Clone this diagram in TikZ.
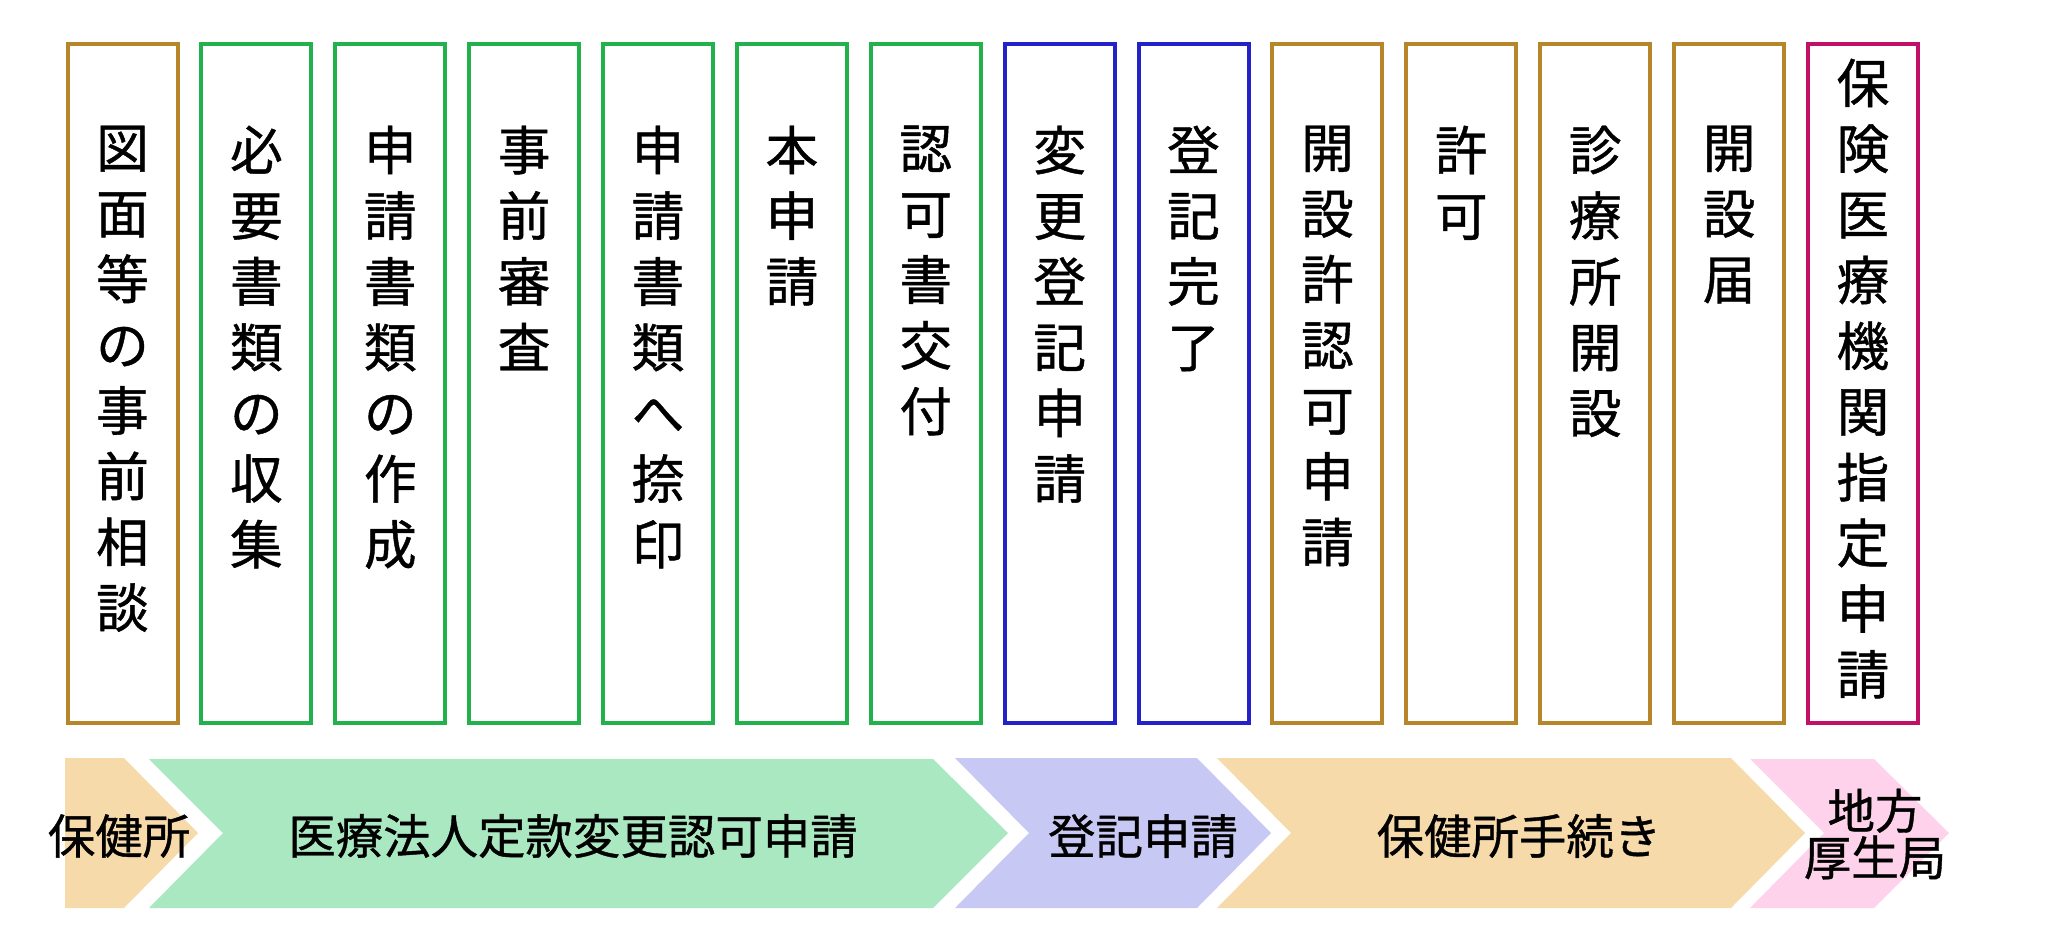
\documentclass[tikz,border=0pt]{standalone}
\usepackage{fontspec}
\newfontfamily\jp[FakeBold=0.8]{Noto Sans CJK JP}
\usepackage{xcolor}
\usepackage{tikz}
\usetikzlibrary{positioning}

\definecolor{hokenbrown}{RGB}{184,134,42}
\definecolor{houjingreen}{RGB}{34,177,76}
\definecolor{toukiblue}{RGB}{34,34,200}
\definecolor{kouseired}{RGB}{192,16,106}
\definecolor{hokenfill}{RGB}{247,218,170}
\definecolor{houjinfill}{RGB}{169,232,192}
\definecolor{toukifill}{RGB}{200,200,244}
\definecolor{kouseifill}{RGB}{253,210,234}

\begin{document}
\begin{tikzpicture}[
      x=0.1mm, y=-0.1mm,
      box/.style={
        draw,
        rectangle,
        line width=0.4mm,
        fill=white,
        minimum width=11.0mm,
        minimum height=67.9mm,
        inner sep=0pt
      },
      txt/.style={
        anchor=north,
        inner sep=0pt,
        align=center,
        font=\jp\fontsize{15pt}{18.7pt}\selectfont
      },
      flowtxt/.style={
        inner sep=0pt,
        align=center,
        font=\jp\fontsize{13.5pt}{13.3pt}\selectfont
      }
      ]
        \useasboundingbox (0,0) rectangle (2053,934);

        % Étapes
        \node[box, draw=hokenbrown] (b1) at (122.5,383.5) {};
        \node[txt] (t1) at ([yshift=-8.3mm]b1.north) {図\\面\\等\\の\\事\\前\\相\\談};

        \node[box, draw=houjingreen] (b2) at (256.4,383.5) {};
        \node[txt] (t2) at ([yshift=-8.3mm]b2.north) {必\\要\\書\\類\\の\\収\\集};

        \node[box, draw=houjingreen] (b3) at (390.3,383.5) {};
        \node[txt] (t3) at ([yshift=-8.3mm]b3.north) {申\\請\\書\\類\\の\\作\\成};

        \node[box, draw=houjingreen] (b4) at (524.1,383.5) {};
        \node[txt] (t4) at ([yshift=-8.3mm]b4.north) {事\\前\\審\\査};

        \node[box, draw=houjingreen] (b5) at (658.0,383.5) {};
        \node[txt] (t5) at ([yshift=-8.3mm]b5.north) {申\\請\\書\\類\\へ\\捺\\印};

        \node[box, draw=houjingreen] (b6) at (791.9,383.5) {};
        \node[txt] (t6) at ([yshift=-8.3mm]b6.north) {本\\申\\請};

        \node[box, draw=houjingreen] (b7) at (925.8,383.5) {};
        \node[txt] (t7) at ([yshift=-8.3mm]b7.north) {認\\可\\書\\交\\付};

        \node[box, draw=toukiblue] (b8) at (1059.7,383.5) {};
        \node[txt] (t8) at ([yshift=-8.3mm]b8.north) {変\\更\\登\\記\\申\\請};

        \node[box, draw=toukiblue] (b9) at (1193.5,383.5) {};
        \node[txt] (t9) at ([yshift=-8.3mm]b9.north) {登\\記\\完\\了};

        \node[box, draw=hokenbrown] (b10) at (1327.4,383.5) {};
        \node[txt] (t10) at ([yshift=-8.3mm]b10.north) {開\\設\\許\\認\\可\\申\\請};

        \node[box, draw=hokenbrown] (b11) at (1461.3,383.5) {};
        \node[txt] (t11) at ([yshift=-8.3mm]b11.north) {許\\可};

        \node[box, draw=hokenbrown] (b12) at (1595.2,383.5) {};
        \node[txt] (t12) at ([yshift=-8.3mm]b12.north) {診\\療\\所\\開\\設};

        \node[box, draw=hokenbrown] (b13) at (1729.1,383.5) {};
        \node[txt] (t13) at ([yshift=-8.3mm]b13.north) {開\\設\\届};

        \node[box, draw=kouseired] (b14) at (1862.9,383.5) {};
        \node[txt] (t14) at ([yshift=-1.6mm]b14.north) {保\\険\\医\\療\\機\\関\\指\\定\\申\\請};

        % 窓口
        \fill[hokenfill] (65,758) -- (124,758) -- (198,833) -- (124,908) -- (65,908) -- cycle;
        \node[flowtxt] (f1) at (119,836) {保健所};

        \fill[houjinfill] (149,759) -- (933,759) -- (1008,833) -- (933,908) -- (149,908) -- (223,833) -- cycle;
        \node[flowtxt] (f2) at (573,836) {医療法人定款変更認可申請};

        \fill[toukifill] (955,758) -- (1197,758) -- (1271,833) -- (1197,908) -- (955,908) -- (1029,833) -- cycle;
        \node[flowtxt] (f3) at (1143,836) {登記申請};

        \fill[hokenfill] (1217,758) -- (1731,758) -- (1805,833) -- (1731,908) -- (1217,908) -- (1291,833) -- cycle;
        \node[flowtxt] (f4) at (1519,836) {保健所手続き};

        \fill[kouseifill] (1750,759) -- (1874,759) -- (1949,833) -- (1874,908) -- (1750,908) -- (1824,833) -- cycle;
        \node[flowtxt] (f5) at (1875,834) {地方\\厚生局};
    \end{tikzpicture}
\end{document}
